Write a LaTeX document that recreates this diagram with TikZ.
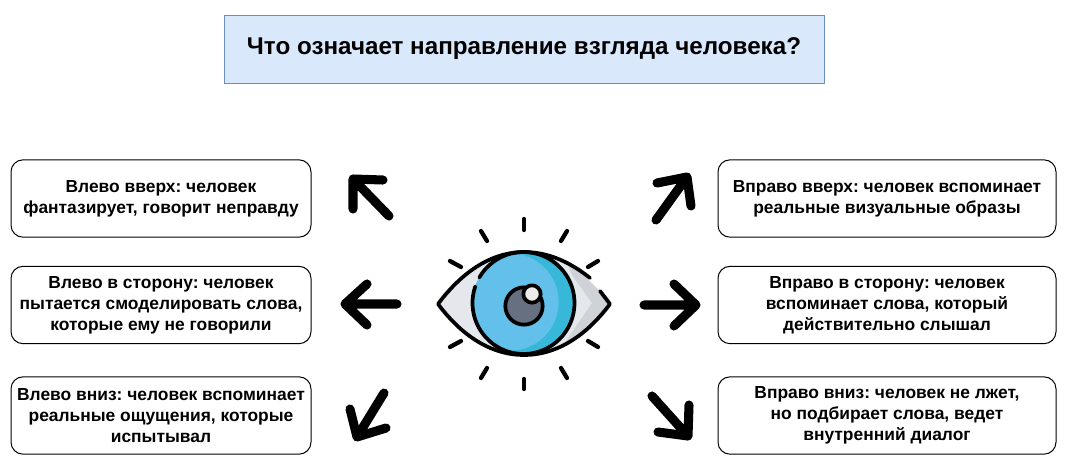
\documentclass[tikz,border=0pt]{standalone}
\usepackage{fontspec}
\setmainfont{Liberation Sans}
\frenchspacing
\tikzset{
  infobox/.style={draw=black,line width=0.75pt,rounded corners=9pt,fill=white,align=center,inner sep=0pt,
    font=\fontsize{13.05pt}{15.8pt}\selectfont\bfseries,minimum height=58pt},
  leftbox/.style={infobox,minimum width=225pt},
  rightbox/.style={infobox,minimum width=253.5pt},
  titlebox/.style={draw=titleedge,fill=titlefill,line width=0.75pt,inner sep=0pt,minimum width=450pt,minimum height=51pt,
    font=\fontsize{18.15pt}{20pt}\selectfont\bfseries},
  bigarrow/.style={draw=black,line width=6.8pt,line cap=round,line join=round},
  ray/.style={draw=black,line width=3.2pt,line cap=round},
  eyeline/.style={draw=black,line width=2.8pt,line cap=round,line join=round},
}
\definecolor{titlefill}{HTML}{DAE8FC}
\definecolor{titleedge}{HTML}{6C8EBF}
\definecolor{sclera}{HTML}{E4E7EC}
\definecolor{scleradark}{HTML}{CFD2D7}
\definecolor{irislight}{HTML}{62C0EA}
\definecolor{irisdark}{HTML}{37B8D9}
\definecolor{pupilgrey}{HTML}{667080}
\definecolor{glint}{HTML}{ECEBEB}
\begin{document}
\begin{tikzpicture}[x=0.75pt,y=-0.75pt]
\useasboundingbox (0,0) rectangle (1065,465);
\fill[white] (0,0) rectangle (1065,465);

\node[titlebox] (title) at (524,49) {Что означает направление взгляда человека?};

\node[leftbox] (lu) at (161,198.5) {Влево вверх: человек\\фантазирует, говорит неправду};
\node[leftbox] (lm) at (161,305) {Влево в сторону: человек\\пытается смоделировать слова,\\которые ему не говорили};
\node[leftbox] (ld) at (161,415.5) {Влево вниз: человек вспоминает\\реальные ощущения, которые\\испытывал};
\node[rightbox] (ru) at (887,198.5) {Вправо вверх: человек вспоминает\\реальные визуальные образы};
\node[rightbox] (rm) at (887,305) {Вправо в сторону: человек\\вспоминает слова, который\\действительно слышал};
\node[rightbox] (rd) at (887,415.5) {Вправо вниз: человек не лжет,\\но подбирает слова, ведет\\внутренний диалог};

% arrows
\draw[bigarrow] (383,180) -- (353,179) -- (353,209) (353,179) -- (389,216);
\draw[bigarrow] (367,284) -- (345,304) -- (367,325) (345,304) -- (397,304);
\draw[bigarrow] (350,409) -- (357,437) -- (386,428) (357,437) -- (384,393);
\draw[bigarrow] (657,183) -- (687,177) -- (691,206) (687,177) -- (656,220);
\draw[bigarrow] (674,284) -- (696,305) -- (674,326) (696,305) -- (644,305);
\draw[bigarrow] (658,432) -- (688,436) -- (689,405) (688,436) -- (652,396);

% rays
\draw[ray] (524,219) -- (524,230);
\draw[ray] (524,379) -- (524,389);
\draw[ray] (481,231) -- (487,241);
\draw[ray] (567,231) -- (561,241);
\draw[ray] (450,261) -- (461,267);
\draw[ray] (598,261) -- (588,267);
\draw[ray] (450,347) -- (461,341);
\draw[ray] (598,347) -- (588,341);
\draw[ray] (481,378) -- (487,368);
\draw[ray] (567,378) -- (561,368);

% eye body
\begin{scope}
\clip (438,304) .. controls (465,268) and (495,252) .. (524,252)
  .. controls (553,252) and (583,268) .. (610,304)
  .. controls (583,340) and (553,355) .. (524,355)
  .. controls (495,355) and (465,340) .. (438,304) -- cycle;
\fill[sclera] (430,245) rectangle (620,360);
\fill[scleradark] (560,245) -- (572,275) -- (592,303) -- (570,335) -- (555,360) -- (620,360) -- (620,245) -- cycle;
\end{scope}

% iris
\fill[irisdark] (523.5,303) circle[radius=38.25pt];
\begin{scope}
\clip (523.5,303) circle[radius=38.25pt];
\fill[irislight] (510,302) circle[radius=36.5pt];
\end{scope}
\draw[eyeline] plot[smooth,domain=161:510,samples=70] ({523.5+51*cos(\x)},{303-51*sin(\x)});

% eye outline
\draw[eyeline] (590,278) .. controls (570,262) and (548,252) .. (524,252)
  .. controls (495,252) and (465,268) .. (438,304)
  .. controls (465,340) and (495,355) .. (524,355)
  .. controls (553,355) and (583,340) .. (610,304) -- (600,291);

% pupil
\draw[eyeline,fill=pupilgrey] (524,306) circle[radius=14pt];
\draw[eyeline,fill=glint] (532,294) circle[radius=6.5pt];
\end{tikzpicture}
\end{document}
